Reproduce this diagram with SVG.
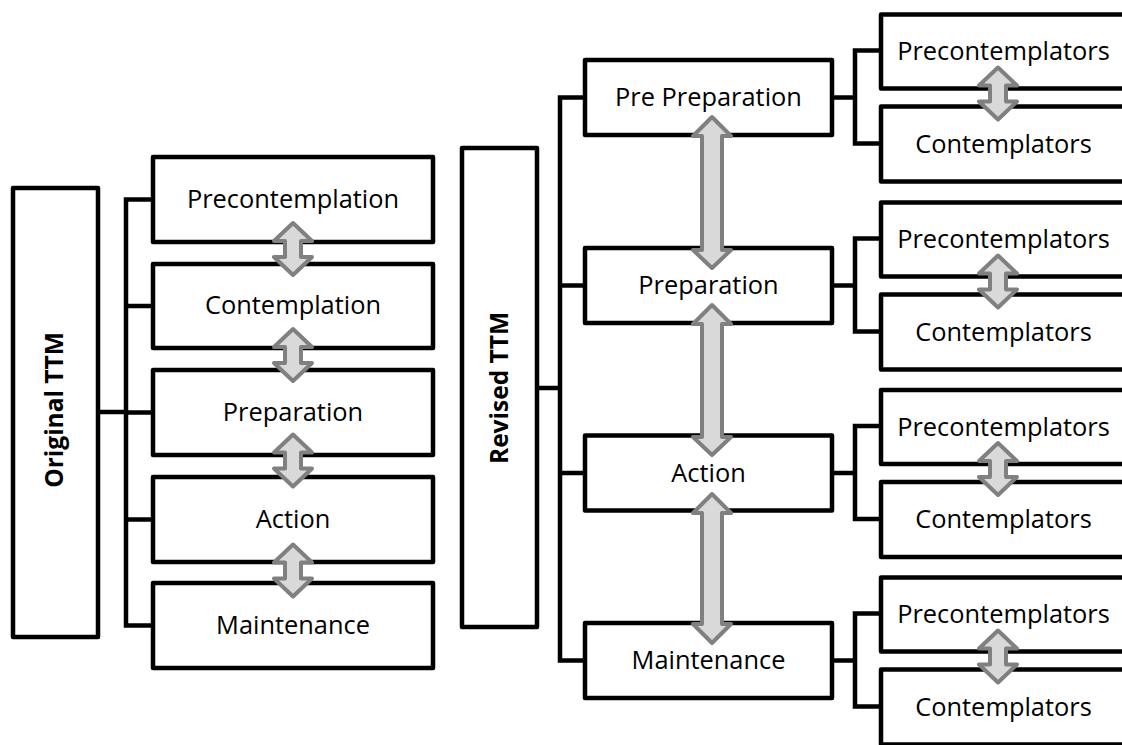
<svg xmlns="http://www.w3.org/2000/svg" xmlns:xlink="http://www.w3.org/1999/xlink" width="1122" height="745" viewBox="0 0 1122 745">
<style>
.box{fill:#fff;stroke:#000;stroke-width:4.5;stroke-linejoin:round}
.ln{fill:none;stroke:#000;stroke-width:4.5;stroke-linejoin:round;stroke-linecap:square}
.t{font-family:"Open Sans","Liberation Sans",sans-serif;font-size:25.4px;fill:#000;text-anchor:middle}
.tb{font-family:"Open Sans","Liberation Sans",sans-serif;font-size:24.5px;font-weight:bold;fill:#000;text-anchor:middle}
.arr{fill:#d9d9d9;stroke:#808080;stroke-width:4;stroke-linejoin:round}
</style>
<defs>
<path id="sa" d="M0,-26 L19,-8 L8,-8 L8,8 L19,8 L0,26 L-19,8 L-8,8 L-8,-8 L-19,-8 Z"/>
</defs>
<rect width="1122" height="745" fill="#fff"/>
<g id="connectors">
<path class="ln" d="M98,412 H126 M126,199.5 V625.5 M126,199.5 H153 M126,306 H153 M126,412.5 H153 M126,519.5 H153 M126,625.5 H153"/>
<path class="ln" d="M537,388 H560 M560,97.5 V660.5 M560,97.5 H585 M560,285.5 H585 M560,473 H585 M560,660.5 H585"/>
<path class="ln" d="M832,97.5 H855 M855,50.5 V143.5 M855,50.5 H881 M855,143.5 H881"/>
<path class="ln" d="M832,285.5 H855 M855,238.5 V331.5 M855,238.5 H881 M855,331.5 H881"/>
<path class="ln" d="M832,473 H855 M855,426 V519 M855,426 H881 M855,519 H881"/>
<path class="ln" d="M832,660.5 H855 M855,613.5 V706.5 M855,613.5 H881 M855,706.5 H881"/>
</g>
<g id="original-ttm">
<rect class="box" x="13" y="188" width="85" height="449"/>
<text class="tb" transform="translate(63,410) rotate(-90)">Original TTM</text>
</g>
<g id="precontemplation"><rect class="box" x="153" y="157" width="280" height="85"/><text class="t" x="293" y="208">Precontemplation</text></g>
<g id="contemplation"><rect class="box" x="153" y="264" width="280" height="84"/><text class="t" x="293" y="314">Contemplation</text></g>
<g id="preparation-o"><rect class="box" x="153" y="370" width="280" height="85"/><text class="t" x="293" y="421">Preparation</text></g>
<g id="action-o"><rect class="box" x="153" y="477" width="280" height="85"/><text class="t" x="293" y="528">Action</text></g>
<g id="maintenance-o"><rect class="box" x="153" y="583" width="280" height="85"/><text class="t" x="293" y="634">Maintenance</text></g>
<g id="revised-ttm">
<rect class="box" x="462" y="148" width="75" height="479"/>
<text class="tb" transform="translate(508,388) rotate(-90)">Revised TTM</text>
</g>
<g id="pre-preparation"><rect class="box" x="585" y="60" width="247" height="75"/><text class="t" x="708.5" y="106">Pre Preparation</text></g>
<g id="preparation-r"><rect class="box" x="585" y="248" width="247" height="75"/><text class="t" x="708.5" y="294">Preparation</text></g>
<g id="action-r"><rect class="box" x="585" y="435.5" width="247" height="75"/><text class="t" x="708.5" y="481.5">Action</text></g>
<g id="maintenance-r"><rect class="box" x="585" y="623" width="247" height="75"/><text class="t" x="708.5" y="669">Maintenance</text></g>
<g id="pc1"><rect class="box" x="881" y="14.5" width="250" height="74"/><text class="t" x="1003.5" y="60">Precontemplators</text></g>
<g id="c1"><rect class="box" x="881" y="106.5" width="250" height="75"/><text class="t" x="1003.5" y="152.5">Contemplators</text></g>
<g id="pc2"><rect class="box" x="881" y="202.5" width="250" height="74"/><text class="t" x="1003.5" y="248">Precontemplators</text></g>
<g id="c2"><rect class="box" x="881" y="294.5" width="250" height="75"/><text class="t" x="1003.5" y="340.5">Contemplators</text></g>
<g id="pc3"><rect class="box" x="881" y="390" width="250" height="74"/><text class="t" x="1003.5" y="435.5">Precontemplators</text></g>
<g id="c3"><rect class="box" x="881" y="482" width="250" height="75"/><text class="t" x="1003.5" y="528">Contemplators</text></g>
<g id="pc4"><rect class="box" x="881" y="577.5" width="250" height="74"/><text class="t" x="1003.5" y="623">Precontemplators</text></g>
<g id="c4"><rect class="box" x="881" y="669.5" width="250" height="75"/><text class="t" x="1003.5" y="715.5">Contemplators</text></g>
<g id="arrows">
<use class="arr" xlink:href="#sa" href="#sa" transform="translate(293,249)"/>
<use class="arr" xlink:href="#sa" href="#sa" transform="translate(293,355)"/>
<use class="arr" xlink:href="#sa" href="#sa" transform="translate(293,460.5)"/>
<use class="arr" xlink:href="#sa" href="#sa" transform="translate(293,570.5)"/>
<path class="arr" d="M712,117 L731,136 L722,136 L722,250 L731,250 L712,268 L693,250 L702,250 L702,136 L693,136 Z"/>
<path class="arr" d="M712,305 L731,324 L722,324 L722,437 L731,437 L712,455 L693,437 L702,437 L702,324 L693,324 Z"/>
<path class="arr" d="M712,494 L731,513 L722,513 L722,624 L731,624 L712,643 L693,624 L702,624 L702,513 L693,513 Z"/>
<use class="arr" xlink:href="#sa" href="#sa" transform="translate(998,93.5)"/>
<use class="arr" xlink:href="#sa" href="#sa" transform="translate(998,281.5)"/>
<use class="arr" xlink:href="#sa" href="#sa" transform="translate(998,469)"/>
<use class="arr" xlink:href="#sa" href="#sa" transform="translate(998,656.5)"/>
</g>
</svg>
